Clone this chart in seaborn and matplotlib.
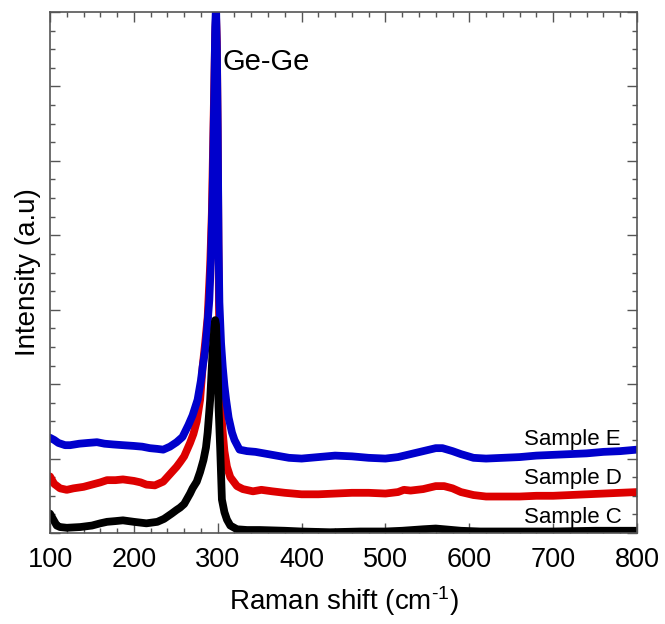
import numpy as np
import pandas as pd
import matplotlib
matplotlib.use("Agg")
import matplotlib.pyplot as plt
from matplotlib.ticker import MultipleLocator, NullFormatter
import seaborn as sns

# ---- data ----
samples = ["Sample D", "Sample E", "Sample C"]

shift_E = [100, 105, 110, 118, 124, 135, 145, 156, 165, 175, 187, 200, 210, 219, 228, 235,
           243, 251, 258, 265, 270, 276, 280, 282, 285, 287, 290, 292, 294, 296, 297, 298,
           299, 300, 301, 302, 304, 306, 308, 310, 313, 317, 320, 326, 335, 345, 355, 370,
           385, 400, 420, 440, 460, 480, 500, 515, 530, 545, 560, 568, 580, 590, 605, 620,
           640, 660, 680, 700, 720, 740, 760, 780, 800]
int_E = [1.28, 1.25, 1.21, 1.18, 1.18, 1.20, 1.21, 1.22, 1.20, 1.19, 1.18, 1.17, 1.16, 1.14,
         1.13, 1.12, 1.16, 1.22, 1.29, 1.45, 1.58, 1.79, 2.05, 2.23, 2.45, 2.69, 3.13, 3.70,
         4.60, 6.00, 6.80, 7.10, 6.50, 5.40, 3.90, 3.10, 2.55, 2.23, 1.98, 1.79, 1.55, 1.35,
         1.25, 1.12, 1.10, 1.09, 1.07, 1.04, 1.01, 1.00, 1.02, 1.04, 1.03, 1.01, 1.00, 1.02,
         1.06, 1.10, 1.14, 1.14, 1.10, 1.06, 1.01, 1.00, 1.01, 1.02, 1.04, 1.05, 1.06, 1.07,
         1.09, 1.10, 1.12]

shift_D = [100, 105, 112, 120, 128, 140, 150, 160, 168, 178, 187, 200, 208, 215, 225, 235,
           243, 247, 251, 255, 260, 267, 271, 275, 279, 282, 285, 288, 291, 293, 295, 297,
           298, 299, 300, 301, 302, 303, 306, 308, 311, 315, 323, 330, 342, 352, 365, 380,
           400, 420, 440, 460, 480, 500, 515, 522, 530, 545, 560, 570, 580, 590, 605, 620,
           640, 660, 680, 700, 720, 740, 760, 780, 800]
int_D = [0.76, 0.66, 0.60, 0.58, 0.60, 0.62, 0.65, 0.68, 0.71, 0.71, 0.72, 0.70, 0.68, 0.65,
         0.64, 0.69, 0.79, 0.84, 0.89, 0.95, 1.03, 1.21, 1.33, 1.50, 1.79, 2.23, 2.55, 2.90,
         3.60, 4.30, 5.50, 6.70, 6.95, 6.60, 5.40, 3.70, 2.50, 1.79, 1.35, 1.10, 0.89, 0.75,
         0.63, 0.59, 0.56, 0.58, 0.56, 0.54, 0.52, 0.52, 0.53, 0.54, 0.54, 0.53, 0.55, 0.58,
         0.57, 0.59, 0.63, 0.63, 0.60, 0.55, 0.51, 0.49, 0.49, 0.49, 0.50, 0.50, 0.51, 0.52,
         0.53, 0.54, 0.55]

shift_C = [100, 104, 108, 112, 120, 136, 150, 160, 168, 178, 187, 200, 215, 228, 236, 245,
           251, 255, 260, 267, 270, 275, 279, 283, 286, 288, 291, 294, 296, 297, 298, 299,
           300, 301, 303, 305, 308, 311, 315, 323, 335, 350, 380, 400, 434, 470, 500, 520,
           545, 560, 570, 590, 613, 650, 700, 750, 800]
int_C = [0.26, 0.18, 0.10, 0.08, 0.07, 0.08, 0.10, 0.13, 0.15, 0.16, 0.17, 0.15, 0.13, 0.15,
         0.19, 0.26, 0.31, 0.34, 0.39, 0.53, 0.60, 0.69, 0.82, 0.98, 1.15, 1.35, 1.79, 2.46,
         2.75, 2.86, 2.80, 2.50, 2.23, 1.70, 1.12, 0.45, 0.28, 0.18, 0.10, 0.05, 0.04, 0.04,
         0.03, 0.02, 0.01, 0.02, 0.02, 0.03, 0.05, 0.06, 0.05, 0.03, 0.02, 0.02, 0.02, 0.03,
         0.03]

x_ticks = [100, 200, 300, 400, 500, 600, 700, 800]
colors = {"Sample D": "#DD0000", "Sample E": "#0000CC", "Sample C": "#000000"}
label_y = {"Sample E": 1.25, "Sample D": 0.73, "Sample C": 0.21}

frames = []
for name, xs, ys in [("Sample D", shift_D, int_D), ("Sample E", shift_E, int_E),
                     ("Sample C", shift_C, int_C)]:
    frames.append(pd.DataFrame({"shift": xs, "intensity": ys, "sample": name}))
df = pd.concat(frames, ignore_index=True)

# ---- style ----
sns.set_theme(style="white")
plt.rcParams["font.family"] = ["Liberation Sans", "DejaVu Sans"]
plt.rcParams["mathtext.fontset"] = "custom"
plt.rcParams["mathtext.rm"] = "Liberation Sans"
plt.rcParams["mathtext.default"] = "regular"

fig = plt.figure(figsize=(6.65, 6.24), dpi=100)
ax = fig.add_axes([50 / 665, (624 - 533) / 624, 587 / 665, 521 / 624])

sns.lineplot(data=df, x="shift", y="intensity", hue="sample", hue_order=samples,
             palette=colors, estimator=None, sort=False, linewidth=5.6, legend=False, ax=ax)

ax.set_xlim(100, 800)
ax.set_ylim(0, 7)
ax.set_xticks(x_ticks)
ax.set_xticklabels([str(t) for t in x_ticks])
ax.xaxis.set_minor_locator(MultipleLocator(20))
ax.yaxis.set_major_locator(MultipleLocator(1))
ax.yaxis.set_minor_locator(MultipleLocator(0.25))
ax.yaxis.set_major_formatter(NullFormatter())

spine_c = "#555555"
for s in ax.spines.values():
    s.set_visible(True)
    s.set_color(spine_c)
    s.set_linewidth(1.2)

ax.tick_params(which="both", direction="in", top=True, right=True, bottom=True, left=True,
               color=spine_c, width=1.0)
ax.tick_params(which="major", length=7.5)
ax.tick_params(which="minor", length=3.8)
ax.tick_params(axis="x", which="major", labelsize=19.5, pad=10, labelcolor="black")
ax.tick_params(axis="y", labelleft=False, labelright=False)

ax.set_xlabel("Raman shift (cm$^{\\text{-}1}$)", fontsize=20, labelpad=8, color="black")
ax.set_ylabel("Intensity (a.u)", fontsize=20, labelpad=3, color="black")

for name, yv in label_y.items():
    ax.text(665, yv, name, fontsize=16, ha="left", va="center", color="black")
ax.text(306, 6.33, "Ge-Ge", fontsize=21, ha="left", va="center", color="black")

fig.savefig("out.png", dpi=100)
